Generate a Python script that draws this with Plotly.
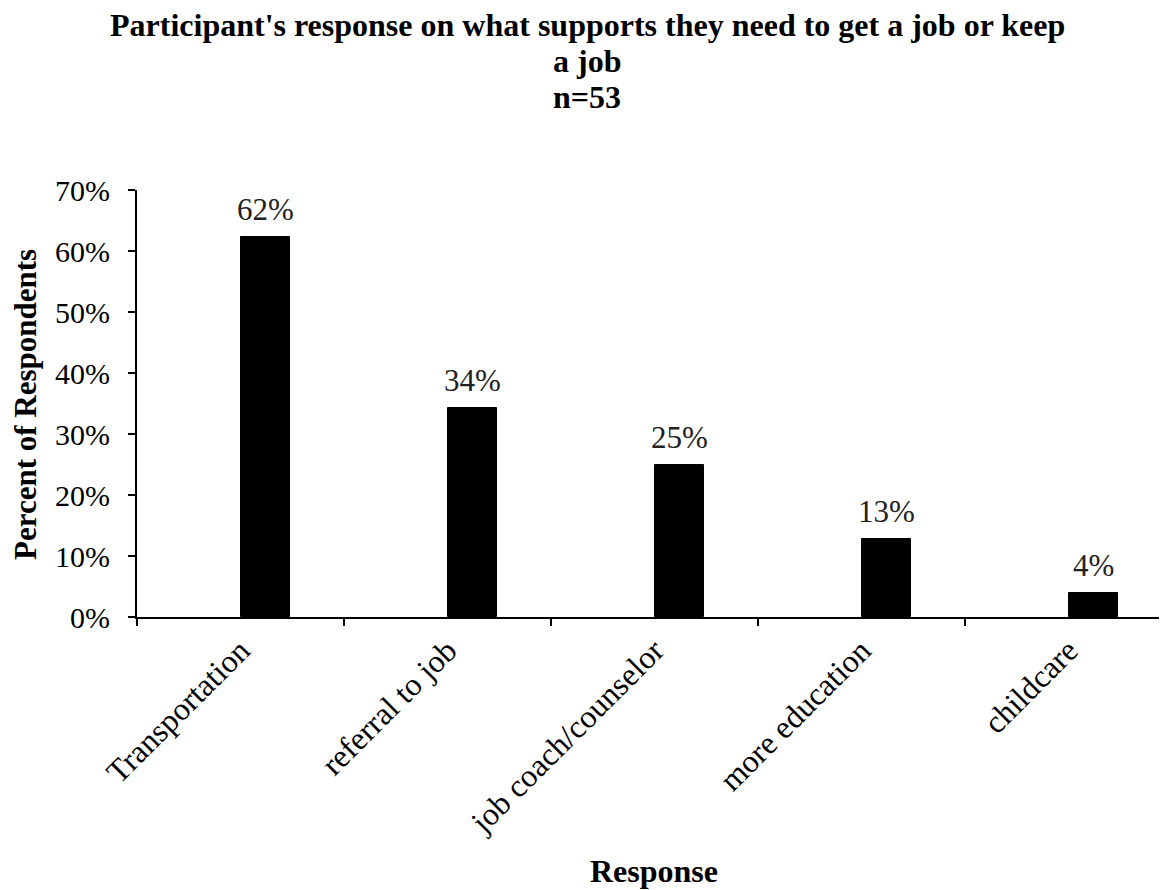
import plotly.graph_objects as go

categories = ["Transportation", "referral to job", "job coach/counselor", "more education", "childcare"]
values = [62.3, 34.2, 25.0, 12.8, 4.0]
labels = ["62%", "34%", "25%", "13%", "4%"]
y_ticks = [0, 10, 20, 30, 40, 50, 60, 70]
y_tick_text = ["0%", "10%", "20%", "30%", "40%", "50%", "60%", "70%"]
title_lines = ["Participant's response on what supports they need to get a job or keep", "a job", "n=53"]

FONT = "Liberation Serif, Times New Roman, serif"
BAR_W = 0.237
# page body has an 8px margin, so the figure is drawn 8px in from the top-left
W, H = 1159, 882
ML, MT, MB = 129, 182, 273
PW = W - ML
PH = H - MT - MB
CAT_PX = 207

fig = go.Figure()
fig.add_trace(go.Bar(
    x=categories, y=values, width=BAR_W, offset=0,
    marker=dict(color="black", line=dict(color="black", width=1)),
    showlegend=False, hoverinfo="skip",
))

for c, v, t in zip(categories, values, labels):
    fig.add_annotation(x=c, y=v, text=t, showarrow=False, xref="x", yref="y",
                       xanchor="center", yanchor="bottom", xshift=BAR_W * CAT_PX / 2, yshift=8,
                       font=dict(family=FONT, size=31, color="#222"))

# title lines (page y centres ~25, 61, 97)
for line, yc in zip(title_lines, [25, 61, 97]):
    fig.add_annotation(text="<b>" + line + "</b>", xref="paper", yref="paper",
                       x=(587 - 8 - ML) / PW, y=1 + (MT - (yc - 8)) / PH,
                       xanchor="center", yanchor="middle", showarrow=False,
                       font=dict(family=FONT, size=32, color="black"))

fig.add_annotation(text="<b>Response</b>", xref="paper", yref="paper",
                   x=(654 - 8 - ML) / PW, y=-(871 - 617) / PH,
                   xanchor="center", yanchor="middle", showarrow=False,
                   font=dict(family=FONT, size=32, color="black"))
fig.add_annotation(text="<b>Percent of Respondents</b>", xref="paper", yref="paper",
                   x=(25 - 8 - ML) / PW, y=(617 - 405) / PH,
                   xanchor="center", yanchor="middle", showarrow=False, textangle=-90,
                   font=dict(family=FONT, size=31, color="black"))

fig.update_layout(
    width=W, height=H,
    margin=dict(l=ML, r=0, t=MT, b=MB),
    paper_bgcolor="white", plot_bgcolor="white",
    font=dict(family=FONT, size=29, color="black"),
    bargap=0,
)
fig.update_xaxes(
    type="category", range=[-0.5, -0.5 + PW / CAT_PX],
    showline=True, linecolor="black", linewidth=2,
    ticks="outside", ticklen=7, tickwidth=2, tickcolor="black",
    tickson="boundaries", tickangle=-45, showgrid=False,
    tickfont=dict(family=FONT, size=32, color="black"),
)
fig.update_yaxes(
    range=[0, 70], tickvals=y_ticks, ticktext=y_tick_text,
    showline=True, linecolor="black", linewidth=2,
    ticks="outside", ticklen=7, tickwidth=2, tickcolor="black",
    showgrid=False, zeroline=False, ticklabelstandoff=12,
    tickfont=dict(family=FONT, size=30, color="black"),
)

fig.write_html("out.html")
